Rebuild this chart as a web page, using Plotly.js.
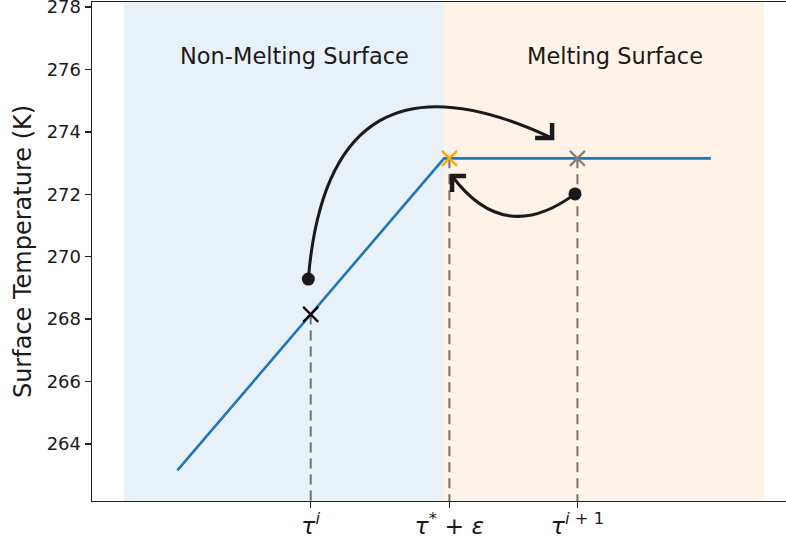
<!DOCTYPE html>
<html>
<head>
<meta charset="utf-8">
<script src="https://cdn.plot.ly/plotly-3.0.1.min.js"></script>
<style>
html,body{margin:0;padding:0;overflow:hidden;background:#fff;}
#chart{width:786px;height:539px;}
</style>
</head>
<body>
<div id="chart"></div>
<script>
// ---- data ----
const lineX = [0, 10, 20];
const lineY = [263.15, 273.15, 273.15];

const spanNames = ["Non-Melting Surface", "Melting Surface"];
const spanX0 = [-2, 10];
const spanX1 = [10, 22];
const spanLabelX = [4.4, 16.4];
const spanLabelY = [276.43, 276.43];

const tauX = [5, 10.2, 15];
const tauY = [268.15, 273.15, 273.15];
const tauLabels = ["<i>τ</i><sup><i>i</i></sup>", "<i>τ</i><sup>*</sup> + <i>ε</i>", "<i>τ</i><sup><i>i</i> + 1</sup>"];
const tauColors = ["#000000", "#ffa500", "#808080"];

const dotX = [4.91, 14.91];
const dotY = [269.28, 272.01];

const arrowStartX = [4.91, 14.91];
const arrowStartY = [269.28, 272.01];
const arrowEndX = [14.05, 10.3];
const arrowEndY = [273.8, 272.585];

const yTicks = [264, 266, 268, 270, 272, 274, 276, 278];

// ---- layout geometry ----
const W = 786, H = 539;
const M = {l: 92, r: 0, t: 2, b: 38};
const xRange = [-3.2, 22.82];
const yRange = [262.17, 278.16];
const pw = W - M.l - M.r, ph = H - M.t - M.b;

function toPx(x, y) {
  return [M.l + (x - xRange[0]) / (xRange[1] - xRange[0]) * pw,
          M.t + (yRange[1] - y) / (yRange[1] - yRange[0]) * ph];
}
function toData(px, py) {
  return [xRange[0] + (px - M.l) / pw * (xRange[1] - xRange[0]),
          yRange[1] - (py - M.t) / ph * (yRange[1] - yRange[0])];
}

// arrow styles (curvature and head arms in pixels)
const arrowRad = [-0.72, -0.5];
const arrowArms = [[[-17, 0], [0, -15]], [[14, 0], [0, 16]]];

const shapes = [];
const spanColors = ["rgba(31,119,180,0.1)", "rgba(255,127,14,0.1)"];
for (let i = 0; i < spanX0.length; i++) {
  shapes.push({type: "rect", xref: "x", yref: "paper", x0: spanX0[i], x1: spanX1[i], y0: 0, y1: 1,
    fillcolor: spanColors[i], line: {width: 0}, layer: "below"});
}
function fmt(p) { return p[0] + "," + p[1]; }
for (let i = 0; i < arrowStartX.length; i++) {
  const p1 = toPx(arrowStartX[i], arrowStartY[i]);
  const p2 = toPx(arrowEndX[i], arrowEndY[i]);
  const dx = p2[0] - p1[0];
  const dyUp = -(p2[1] - p1[1]);
  const mx = (p1[0] + p2[0]) / 2, my = (p1[1] + p2[1]) / 2;
  const c = [mx + arrowRad[i] * dyUp, my + arrowRad[i] * dx];
  const cD = toData(c[0], c[1]);
  shapes.push({type: "path", xref: "x", yref: "y",
    path: "M " + fmt([arrowStartX[i], arrowStartY[i]]) + " Q " + fmt(cD) + " " + fmt([arrowEndX[i], arrowEndY[i]]),
    line: {color: "#1a1a1a", width: 3}, layer: "above"});
  const a1 = toData(p2[0] + arrowArms[i][0][0], p2[1] + arrowArms[i][0][1]);
  const a2 = toData(p2[0] + arrowArms[i][1][0], p2[1] + arrowArms[i][1][1]);
  shapes.push({type: "path", xref: "x", yref: "y",
    path: "M " + fmt(a1) + " L " + fmt([arrowEndX[i], arrowEndY[i]]) + " L " + fmt(a2),
    line: {color: "#1a1a1a", width: 4.5}, layer: "above"});
}

const traces = [];
// dashed guides
for (let i = 0; i < tauX.length; i++) {
  traces.push({x: [tauX[i], tauX[i]], y: [tauY[i], yRange[0] - 1], mode: "lines",
    line: {color: "rgba(70,70,70,0.75)", width: 2, dash: "10px,6px"}, cliponaxis: true, hoverinfo: "skip"});
}
traces.push({x: lineX, y: lineY, mode: "lines", line: {color: "#1f77b4", width: 2.6}});
traces.push({x: tauX, y: tauY, mode: "markers",
  marker: {symbol: "x-thin", size: 15, color: tauColors, line: {color: tauColors, width: 2.2}}});
traces.push({x: dotX, y: dotY, mode: "markers", marker: {symbol: "circle", size: 13, color: "#1a1a1a"}});

const annotations = spanNames.map((t, i) => ({
  x: spanLabelX[i], y: spanLabelY[i], xref: "x", yref: "y", text: t, showarrow: false,
  font: {family: "DejaVu Sans", size: 22.5, color: "#1a1a1a"}, xanchor: "center", yanchor: "middle"
}));

const layout = {
  width: W, height: H,
  margin: M,
  paper_bgcolor: "#fff", plot_bgcolor: "rgba(0,0,0,0)",
  showlegend: false,
  font: {family: "DejaVu Sans", color: "#222"},
  xaxis: {range: xRange, showgrid: false, zeroline: false, showline: true, mirror: true,
    linecolor: "#222", linewidth: 1.4, ticks: "outside", ticklen: 6, tickwidth: 1.4, tickcolor: "#222",
    tickmode: "array", tickvals: tauX, ticktext: tauLabels, ticklabeloverflow: "allow", ticklabelstandoff: -3,
    tickfont: {family: "DejaVu Sans", size: 23.5, color: "#1a1a1a"}, fixedrange: true},
  yaxis: {range: yRange, showgrid: false, zeroline: false, showline: true, mirror: false,
    linecolor: "#222", linewidth: 1.4, ticks: "outside", ticklen: 6, tickwidth: 1.4, tickcolor: "#222",
    tickmode: "array", tickvals: yTicks, ticktext: yTicks.map(String), ticklabeloverflow: "allow",
    tickfont: {family: "DejaVu Sans", size: 18, color: "#1a1a1a"},
    title: {text: "Surface Temperature (K)", font: {family: "DejaVu Sans", size: 24, color: "#1a1a1a"}, standoff: 8},
    fixedrange: true},
  shapes: shapes,
  annotations: annotations
};

Plotly.newPlot("chart", traces, layout, {staticPlot: true, displayModeBar: false});
</script>
</body>
</html>
